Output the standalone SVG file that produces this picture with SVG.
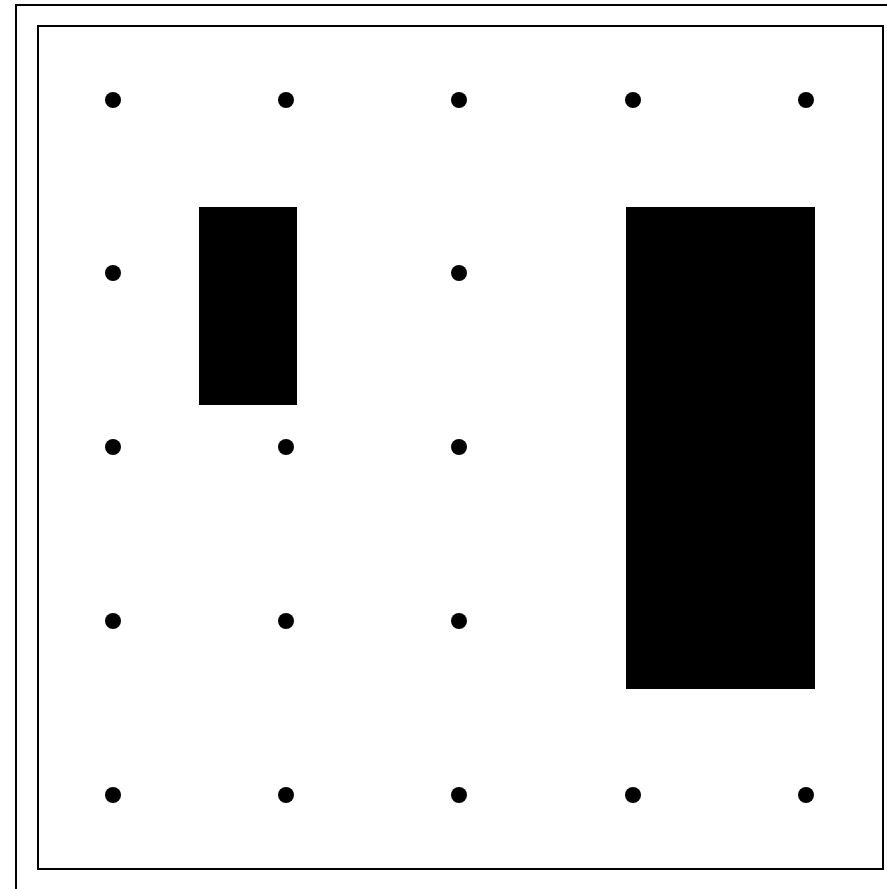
<svg xmlns="http://www.w3.org/2000/svg" width="887" height="889" viewBox="0 0 887 889">
<style>
.frame{fill:none;stroke:#000;stroke-width:2}
.dot{fill:#000}
.blk{fill:#000}
</style>
<rect x="0" y="0" width="887" height="889" fill="#fff"/>
<rect class="frame" x="16" y="5" width="880" height="890"/>
<rect class="frame" x="38" y="26" width="845" height="843"/>
<g id="block1"><rect class="blk" x="199" y="207" width="98" height="198"/></g>
<g id="block2"><rect class="blk" x="626" y="207" width="189" height="482"/></g>
<g id="dots">
<circle class="dot" cx="113" cy="100" r="8"/>
<circle class="dot" cx="286" cy="100" r="8"/>
<circle class="dot" cx="459" cy="100" r="8"/>
<circle class="dot" cx="633" cy="100" r="8"/>
<circle class="dot" cx="806" cy="100" r="8"/>
<circle class="dot" cx="113" cy="273" r="8"/>
<circle class="dot" cx="459" cy="273" r="8"/>
<circle class="dot" cx="113" cy="447" r="8"/>
<circle class="dot" cx="286" cy="447" r="8"/>
<circle class="dot" cx="459" cy="447" r="8"/>
<circle class="dot" cx="113" cy="621" r="8"/>
<circle class="dot" cx="286" cy="621" r="8"/>
<circle class="dot" cx="459" cy="621" r="8"/>
<circle class="dot" cx="113" cy="795" r="8"/>
<circle class="dot" cx="286" cy="795" r="8"/>
<circle class="dot" cx="459" cy="795" r="8"/>
<circle class="dot" cx="633" cy="795" r="8"/>
<circle class="dot" cx="806" cy="795" r="8"/>
</g>
</svg>
